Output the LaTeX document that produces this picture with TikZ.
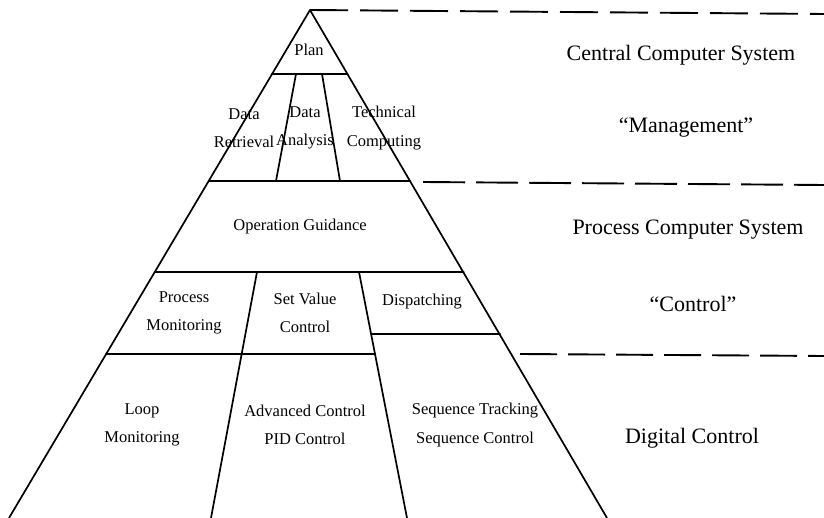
\documentclass[tikz,border=0pt]{standalone}
\usepackage{fontspec}
\setmainfont{Liberation Serif}
\begin{document}
\begin{tikzpicture}[x=1pt,y=-1pt,
  edge/.style={line width=1.7pt, line cap=round, line join=round},
  sep/.style={line width=1.9pt, dash pattern=on 38pt off 12pt},
  lbl/.style={align=center, inner sep=0pt, font=\fontsize{16.5}{28.5}\selectfont},
  side/.style={inner sep=0pt, font=\fontsize{22}{26}\selectfont}]
\useasboundingbox (0,0) rectangle (824,518);
% key points of the pyramid
\coordinate (apex) at (310,10);
\coordinate (bl) at (9,518);
\coordinate (br) at (607,518);
\coordinate (l1) at (272.1,74);  \coordinate (r1) at (347.5,74);
\coordinate (l2) at (208.7,181); \coordinate (r2) at (410.3,181);
\coordinate (l3) at (154.8,272); \coordinate (r3) at (463.7,272);
\coordinate (r4) at (500.1,334);
\coordinate (l5) at (106.2,354);
% dividers
\coordinate (d1t) at (296,74);  \coordinate (d1b) at (276,181);
\coordinate (d2t) at (322,74);  \coordinate (d2b) at (340,181);
\coordinate (d3t) at (257,272); \coordinate (d3b) at (211,518);
\coordinate (d4t) at (359,272); \coordinate (d4b) at (407,518);
\coordinate (d4a) at (371.1,334); \coordinate (d4c) at (375,354);
% outline
\draw[edge] (bl) -- (apex) -- (br);
% horizontal levels
\draw[edge] (l1) -- (r1);
\draw[edge] (l2) -- (r2);
\draw[edge] (l3) -- (r3);
\draw[edge] (d4a) -- (r4);
\draw[edge] (l5) -- (d4c);
% vertical dividers
\draw[edge] (d1t) -- (d1b);
\draw[edge] (d2t) -- (d2b);
\draw[edge] (d3t) -- (d3b);
\draw[edge] (d4t) -- (d4b);
% dashed separators
\coordinate (s1e) at (824,14);
\coordinate (s2s) at (423,182); \coordinate (s2e) at (824,185);
\coordinate (s3s) at (520,354); \coordinate (s3e) at (824,356);
\draw[sep] (apex) -- (s1e);
\draw[sep, dash pattern=on 42pt off 11pt] (s2s) -- (s2e);
\draw[sep, dash pattern=on 37pt off 11pt] (s3s) -- (s3e);
% pyramid labels
\node[lbl] (plan) at (309,50) {Plan};
\node[lbl] (dr) at (244,128) {Data\\Retrieval};
\node[lbl] (da) at (305,128) {Data\\Analysis};
\node[lbl] (tc) at (384,128) {Technical\\Computing};
\node[lbl] (og) at (300,227) {Operation Guidance};
\node[lbl] (pm) at (184,313) {Process\\Monitoring};
\node[lbl] (sv) at (305,313) {Set Value\\Control};
\node[lbl] (dp) at (422,302) {Dispatching};
\node[lbl] (lm) at (142,425) {Loop\\Monitoring};
\node[lbl] (ac) at (305,425) {Advanced Control\\PID Control};
\node[lbl] (sq) at (475,425) {Sequence Tracking\\Sequence Control};
% side labels
\node[side] (ccs) at (681,55) {Central Computer System};
\node[side] (mg) at (686,128) {“Management”};
\node[side] (pcs) at (688,230) {Process Computer System};
\node[side] (ct) at (693,304) {“Control”};
\node[side] (dc) at (692,438) {Digital Control};
\end{tikzpicture}
\end{document}
